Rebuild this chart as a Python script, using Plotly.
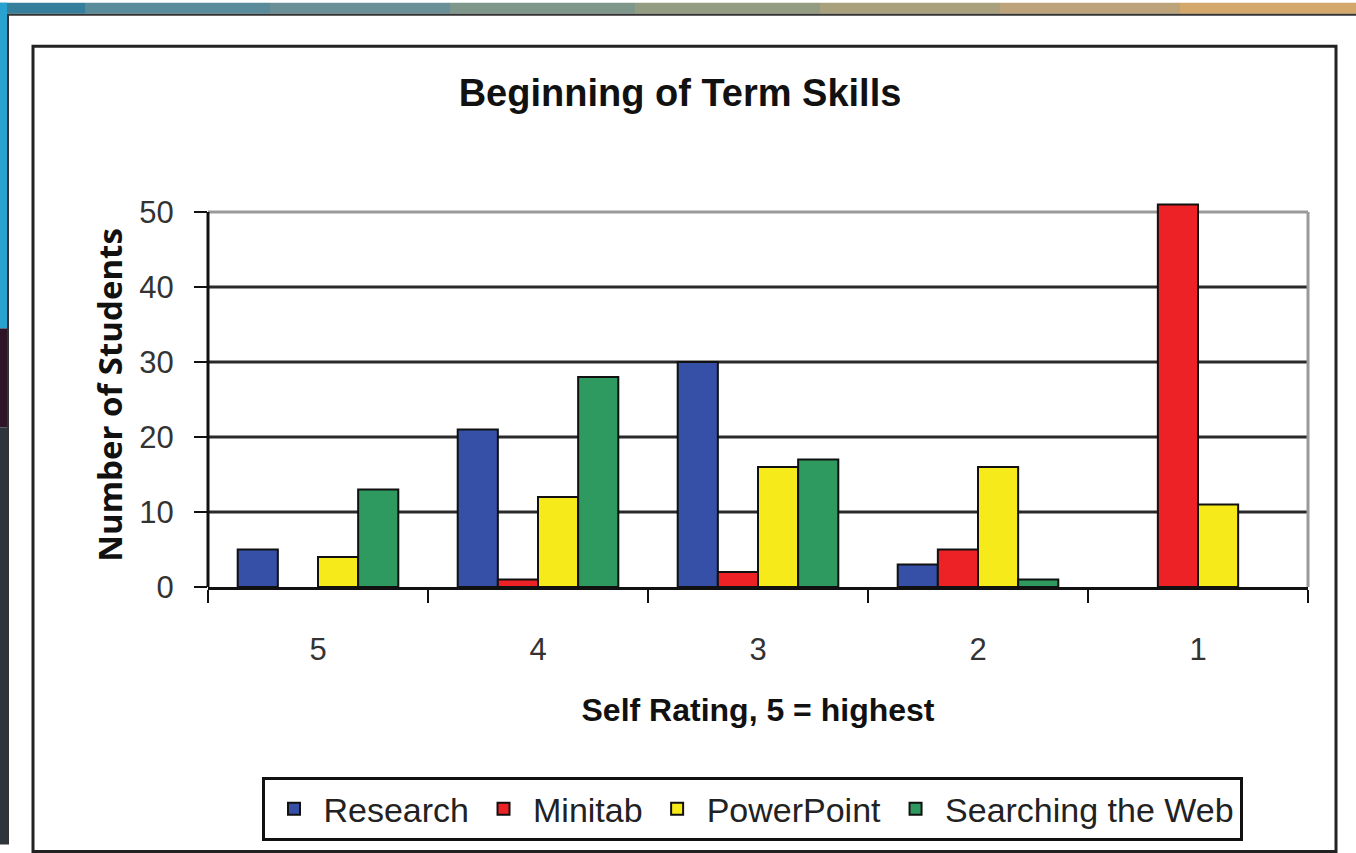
import plotly.graph_objects as go

categories = ["5", "4", "3", "2", "1"]
research = [5, 21, 30, 3, 0]
minitab = [0, 1, 2, 5, 51]
powerpoint = [4, 12, 16, 16, 11]
searching_web = [13, 28, 17, 1, 0]
y_ticks = [0, 10, 20, 30, 40, 50]

series = [
    ("Research", research, "#3550a6"),
    ("Minitab", minitab, "#ec2227"),
    ("PowerPoint", powerpoint, "#f7ea1a"),
    ("Searching the Web", searching_web, "#2f9a5f"),
]

YTOP = y_ticks[-1]
YMAX = 51.2
W, H = 1356, 853
L, R, B = 208, 48, 261
PH = 380 * YMAX / YTOP
T = H - B - PH
PW = W - L - R

def px(x):
    return (x - L) / PW

def py(y):
    return (H - B - y) / PH

FONT = "Liberation Sans, Arial, sans-serif"

fig = go.Figure()
for name, vals, col in series:
    fig.add_trace(go.Bar(
        x=categories, y=[v if v else None for v in vals], name=name,
        marker=dict(color=col, line=dict(color="#111", width=2)),
    ))

shapes = []
top_cols = ["#367f9c", "#5a8b9b", "#6b8f97", "#7f978b", "#939c80", "#a9a07d", "#bca379", "#d3a86a"]
edges = [0, 85, 270, 450, 635, 820, 1000, 1180, 1356]
for i, c in enumerate(top_cols):
    shapes.append(dict(type="rect", xref="paper", yref="paper", x0=px(edges[i]), x1=px(edges[i + 1]),
                       y0=py(0), y1=py(11), fillcolor=c, line=dict(width=0), layer="below"))
for y0, y1, c in [(0, 330, "#2aa2cf"), (330, 430, "#2e1426"), (430, 853, "#30343c")]:
    shapes.append(dict(type="rect", xref="paper", yref="paper", x0=px(0), x1=px(7),
                       y0=py(y0), y1=py(y1), fillcolor=c, line=dict(width=0), layer="below"))
shapes.append(dict(type="line", xref="paper", yref="paper", x0=px(7), x1=px(1356), y0=py(12), y1=py(12),
                   line=dict(color="#333", width=2), layer="below"))
shapes.append(dict(type="line", xref="paper", yref="paper", x0=px(8), x1=px(8), y0=py(12), y1=py(853),
                   line=dict(color="#333", width=2), layer="below"))
shapes.append(dict(type="rect", xref="paper", yref="paper", x0=px(33), x1=px(1336), y0=py(44), y1=py(860),
                   line=dict(color="#222", width=3), fillcolor="rgba(0,0,0,0)", layer="below"))
for v in y_ticks[1:-1]:
    shapes.append(dict(type="line", xref="paper", yref="y", x0=0, x1=1, y0=v, y1=v,
                       line=dict(color="#2a2a2a", width=3), layer="below"))
shapes.append(dict(type="line", xref="paper", yref="y", x0=0, x1=1, y0=YTOP, y1=YTOP,
                   line=dict(color="#9a9a9a", width=3), layer="below"))
shapes.append(dict(type="line", xref="paper", yref="y", x0=1, x1=1, y0=0, y1=YTOP,
                   line=dict(color="#9a9a9a", width=3), layer="below"))
shapes.append(dict(type="line", xref="paper", yref="y", x0=0, x1=0, y0=0, y1=YTOP,
                   line=dict(color="#111", width=3), layer="above"))

fig.update_layout(
    width=W, height=H,
    margin=dict(l=L, r=R, t=T, b=B),
    paper_bgcolor="white", plot_bgcolor="white",
    barmode="group", bargap=0.27, bargroupgap=0,
    title=dict(text="<b>Beginning of Term Skills</b>", x=680 / W, xanchor="center",
               y=1 - 93 / H, yanchor="middle", yref="container",
               font=dict(family=FONT, size=38, color="#111")),
    font=dict(family=FONT, color="#222"),
    showlegend=True,
    legend=dict(orientation="h", x=px(752), xanchor="center", y=py(817), yanchor="middle",
                bgcolor="white", bordercolor="#111", borderwidth=3,
                font=dict(family=FONT, size=34, color="#222"),
                itemwidth=49, traceorder="normal", tracegroupgap=0),
    shapes=shapes,
)

fig.update_xaxes(
    type="category", tickson="boundaries", ticks="outside", ticklen=13, tickwidth=2, tickcolor="#111",
    showline=True, linecolor="#111", linewidth=3, showgrid=False,
    tickfont=dict(family=FONT, size=31, color="#333"), ticklabelstandoff=33,
    title=dict(text="<b>Self Rating, 5 = highest</b>", font=dict(family=FONT, size=32, color="#111"), standoff=33),
)
fig.update_yaxes(
    range=[0, YMAX], tickvals=y_ticks, ticks="outside", ticklen=13, tickwidth=2, tickcolor="#111",
    showline=False, showgrid=False, zeroline=False,
    tickfont=dict(family=FONT, size=31, color="#333"), ticklabelstandoff=14,
    title=dict(text="<b>Number of Students</b>", font=dict(family="Open Sans, sans-serif", size=33, color="#111"),
               standoff=6),
)

fig.write_html("out.html", config={"displayModeBar": False},
               post_script="document.body.style.margin='0';document.body.style.padding='0';")
